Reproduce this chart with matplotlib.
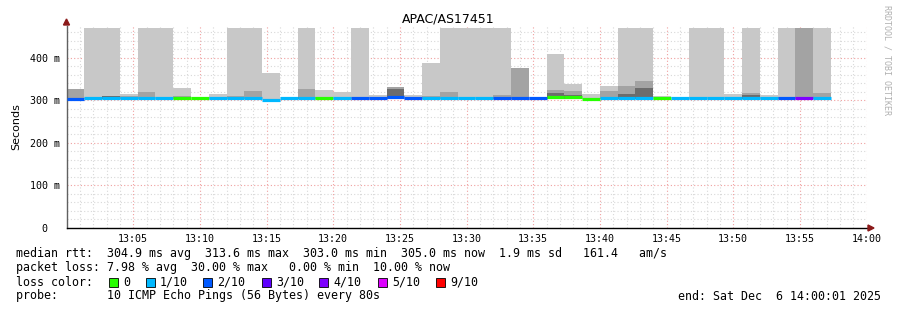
import matplotlib
matplotlib.use("Agg")
import matplotlib.pyplot as plt
import numpy as np
from matplotlib.patches import Rectangle

# smokeping style latency graph, 80s steps starting 13:00
title = "APAC/AS17451"
step_min = 80 / 60.0
FULL = 470  # smoke going off the top of the graph

# light smoke top (ms), medium smoke top, dark smoke top, median, loss (out of 10)
smoke_hi = [np.nan, FULL, FULL, 314, FULL, FULL, 329, np.nan, 315, FULL,
            FULL, 365, np.nan, FULL, 325, 320, FULL, 313, np.nan, 313,
            388, FULL, FULL, FULL, FULL, np.nan, np.nan, 410, 339, 315,
            334, FULL, FULL, 310, np.nan, FULL, FULL, 315, FULL, 313,
            FULL, np.nan, FULL]
smoke_mid = [327, np.nan, np.nan, 311, 320, np.nan, 310, np.nan, np.nan, 311,
             322, np.nan, np.nan, 327, 309, np.nan, np.nan, np.nan, 332, np.nan,
             310, 320, np.nan, np.nan, 313, 377, np.nan, 325, 322, np.nan,
             322, 334, 346, np.nan, np.nan, np.nan, np.nan, np.nan, 318, np.nan,
             307, FULL, 318]
smoke_lo = [np.nan, np.nan, 310, np.nan, np.nan, np.nan, np.nan, np.nan, np.nan, np.nan,
            np.nan, np.nan, np.nan, 309, np.nan, np.nan, np.nan, np.nan, 328, np.nan,
            np.nan, np.nan, np.nan, np.nan, np.nan, np.nan, np.nan, 317, 312, np.nan,
            np.nan, 316, 329, np.nan, np.nan, np.nan, np.nan, np.nan, 313, np.nan,
            np.nan, np.nan, np.nan]
median = [304, 305, 305, 305, 305, 305, 305, 305, 305, 305,
          305, 302, 305, 305, 305, 305, 305, 305, 308, 305,
          305, 305, 305, 305, 305, 305, 305, 309, 309, 303,
          305, 305, 305, 305, 305, 305, 305, 305, 305, 305,
          305, 305, 305]
loss = [2, 1, 1, 1, 1, 1, 0, 0, 1, 1,
        1, 1, 1, 1, 0, 1, 2, 2, 2, 2,
        1, 1, 1, 1, 2, 2, 2, 0, 0, 0,
        1, 1, 1, 0, 1, 1, 1, 1, 1, 1,
        2, 4, 1]
smoke_floor = 303

loss_names = ["0", "1/10", "2/10", "3/10", "4/10", "5/10", "9/10"]
loss_cols = ["#26ff00", "#00b8ff", "#0059ff", "#5e00ff", "#7e00ff", "#dd00ff", "#ff0000"]

W, H = 897, 310
fig = plt.figure(figsize=(W / 100, H / 100), dpi=100)
ax = fig.add_axes([66.5 / W, 82 / H, 800 / W, 202 / H])
ax.set_xlim(0, 60)
ax.set_ylim(0, 475)

mono = "DejaVu Sans Mono"

# grid
for m in range(1, 61):
    major = m % 5 == 0
    ax.axvline(m, color="#f0a0a0" if major else "#d8d8d8", lw=0.8,
               ls=(0, (1, 2)), zorder=0)
for v in range(20, 475, 20):
    major = v % 100 == 0
    ax.axhline(v, color="#f0a0a0" if major else "#d8d8d8", lw=0.8,
               ls=(0, (1, 2)), zorder=0)

starts = np.arange(len(median)) * step_min

def smoke(vals, color):
    for x, v in zip(starts, vals):
        if np.isnan(v):
            continue
        ax.bar(x, v - smoke_floor, width=step_min, bottom=smoke_floor,
               align="edge", color=color, linewidth=0, zorder=2)

smoke(smoke_hi, "#c8c8c8")
smoke(smoke_mid, "#a3a3a3")
smoke(smoke_lo, "#6c6c6c")

lc = {0: loss_cols[0], 1: loss_cols[1], 2: loss_cols[2], 3: loss_cols[3],
      4: loss_cols[4], 5: loss_cols[5], 9: loss_cols[6]}
for x, m, l in zip(starts, median, loss):
    ax.hlines(m, x, x + step_min, color=lc[l], lw=2.3, zorder=3)

# axes
for s in ["top", "right"]:
    ax.spines[s].set_visible(False)
ax.spines["left"].set_color("#606060")
ax.spines["bottom"].set_color("black")
ax.spines["left"].set_linewidth(1.0)
ax.spines["bottom"].set_linewidth(1.0)
ax.set_facecolor("white")

xt = list(range(5, 61, 5))
ax.set_xticks(xt)
ax.set_xticklabels(["13:%02d" % t if t < 60 else "14:00" for t in xt],
                   fontfamily=mono, fontsize=7.2)
ax.set_yticks([0, 100, 200, 300, 400])
ax.set_yticklabels(["0  ", "100 m", "200 m", "300 m", "400 m"],
                   fontfamily=mono, fontsize=7.2)
ax.tick_params(axis="both", length=0, pad=5)
ax.tick_params(axis="x", pad=4)
ax.set_ylabel("Seconds", fontsize=8, labelpad=6)

# arrows at the end of the axes
fig.patches.append(plt.Polygon([[63.5 / W, 1 - 25 / H], [69.5 / W, 1 - 25 / H], [66.5 / W, 1 - 19 / H]],
                               closed=True, color="#8b1a1a", transform=fig.transFigure))
fig.patches.append(plt.Polygon([[868 / W, 1 - 225 / H], [868 / W, 1 - 231 / H], [874 / W, 1 - 228 / H]],
                               closed=True, color="#8b1a1a", transform=fig.transFigure))

fig.text(448 / W, 1 - 19 / H, title, ha="center", va="center", fontsize=9)
fig.text(887 / W, 1 - 5 / H, "RRDTOOL / TOBI OETIKER", rotation=270, ha="center",
         va="top", fontsize=6, fontfamily=mono, color="#b0b0b0")

def line(y, s):
    fig.text(16 / W, 1 - y / H, s, ha="left", va="center", fontsize=8.4, fontfamily=mono)

line(254, "median rtt:  304.9 ms avg  313.6 ms max  303.0 ms min  305.0 ms now  1.9 ms sd   161.4   am/s")
line(268, "packet loss: 7.98 % avg  30.00 % max   0.00 % min  10.00 % now")
line(282, "loss color:")
line(296, "probe:       10 ICMP Echo Pings (56 Bytes) every 80s")
fig.text(881 / W, 1 - 296 / H, "end: Sat Dec  6 14:00:01 2025", ha="right", va="center",
         fontsize=8.4, fontfamily=mono)

sq_x = [109, 146, 203, 262, 319, 378, 436]
for x, name, col in zip(sq_x, loss_names, loss_cols):
    fig.patches.append(Rectangle((x / W, 1 - 287 / H), 9 / W, 9 / H, facecolor=col,
                                 edgecolor="black", linewidth=0.6, transform=fig.transFigure))
    fig.text((x + 14) / W, 1 - 282 / H, name, ha="left", va="center", fontsize=8.4, fontfamily=mono)

fig.savefig("out.png", dpi=100)
